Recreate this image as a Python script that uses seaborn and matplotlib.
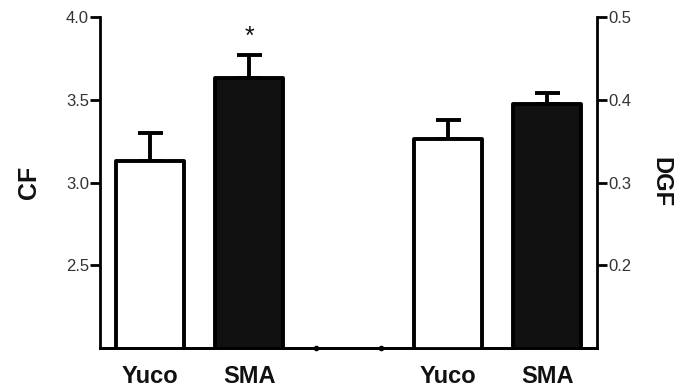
import numpy as np
import pandas as pd
import matplotlib
matplotlib.use('Agg')
import matplotlib.pyplot as plt
import seaborn as sns

# ==========================================
# DATA
# ==========================================
groups = ['Yuco', 'SMA']
cf_mean = [3.13, 3.63]
cf_err = [0.17, 0.14]
dgf_mean = [0.353, 0.395]
dgf_err = [0.022, 0.013]
cf_pos = [0, 1]
dgf_pos = [3, 4]
break_dots = [1.67, 2.33]

sns.set_style('ticks')
plt.rcParams['font.family'] = ['Liberation Sans', 'DejaVu Sans']

fig, ax = plt.subplots(figsize=(6.86, 3.88), dpi=100)
fig.subplots_adjust(left=0.146, right=0.870, top=0.956, bottom=0.103)
ax2 = ax.twinx()

pal = ['white', '#111111']
lw = 2.8

df_cf = pd.DataFrame({'pos': cf_pos, 'val': cf_mean, 'grp': groups})
df_dgf = pd.DataFrame({'pos': dgf_pos, 'val': dgf_mean, 'grp': groups})

sns.barplot(data=df_cf, x='pos', y='val', hue='grp', palette=pal,
            native_scale=True, width=0.68, edgecolor='black', linewidth=lw,
            legend=False, errorbar=None, ax=ax, zorder=2)
sns.barplot(data=df_dgf, x='pos', y='val', hue='grp', palette=pal,
            native_scale=True, width=0.68, edgecolor='black', linewidth=lw,
            legend=False, errorbar=None, ax=ax2, zorder=2)
for a in (ax, ax2):
    for p in a.patches:
        p.set_joinstyle('round')

ax.errorbar(cf_pos, cf_mean, yerr=[[0, 0], cf_err], fmt='none', ecolor='black',
            elinewidth=lw, capsize=9, capthick=lw, zorder=1)
ax2.errorbar(dgf_pos, dgf_mean, yerr=[[0, 0], dgf_err], fmt='none', ecolor='black',
             elinewidth=lw, capsize=9, capthick=lw, zorder=1)

ax.plot(break_dots, [2.0, 2.0], 'o', color='black', ms=3, clip_on=False, zorder=5)

ax.text(1, 3.88, '*', ha='center', va='center', fontsize=18, color='#111111')

ax.set_xlim(-0.5, 4.5)
ax.set_ylim(2.0, 4.0)
ax2.set_ylim(0.1, 0.5)
ax.set_yticks([2.5, 3.0, 3.5, 4.0])
ax2.set_yticks([0.2, 0.3, 0.4, 0.5])
ax.set_xticks(cf_pos + dgf_pos)
ax.set_xticklabels(groups + groups, fontsize=17, fontweight='bold', color='#111111')

ax.set_xlabel('')
ax.set_ylabel('CF', fontsize=18, fontweight='bold', labelpad=18, color='#111111')
ax2.set_ylabel('DGF', fontsize=17, fontweight='bold', labelpad=13, rotation=270,
               va='bottom', color='#111111')
ax2.set_xlabel('')

for a in (ax, ax2):
    for s in a.spines.values():
        s.set_linewidth(2)
        s.set_color('black')
    a.spines['top'].set_visible(False)
    a.tick_params(axis='y', length=7, width=2, color='black', labelsize=12,
                  labelcolor='#333333', pad=1)
ax.spines['right'].set_visible(False)
ax2.spines['left'].set_visible(False)
ax.tick_params(axis='x', length=0, pad=12)

fig.savefig('out.png', dpi=100)
